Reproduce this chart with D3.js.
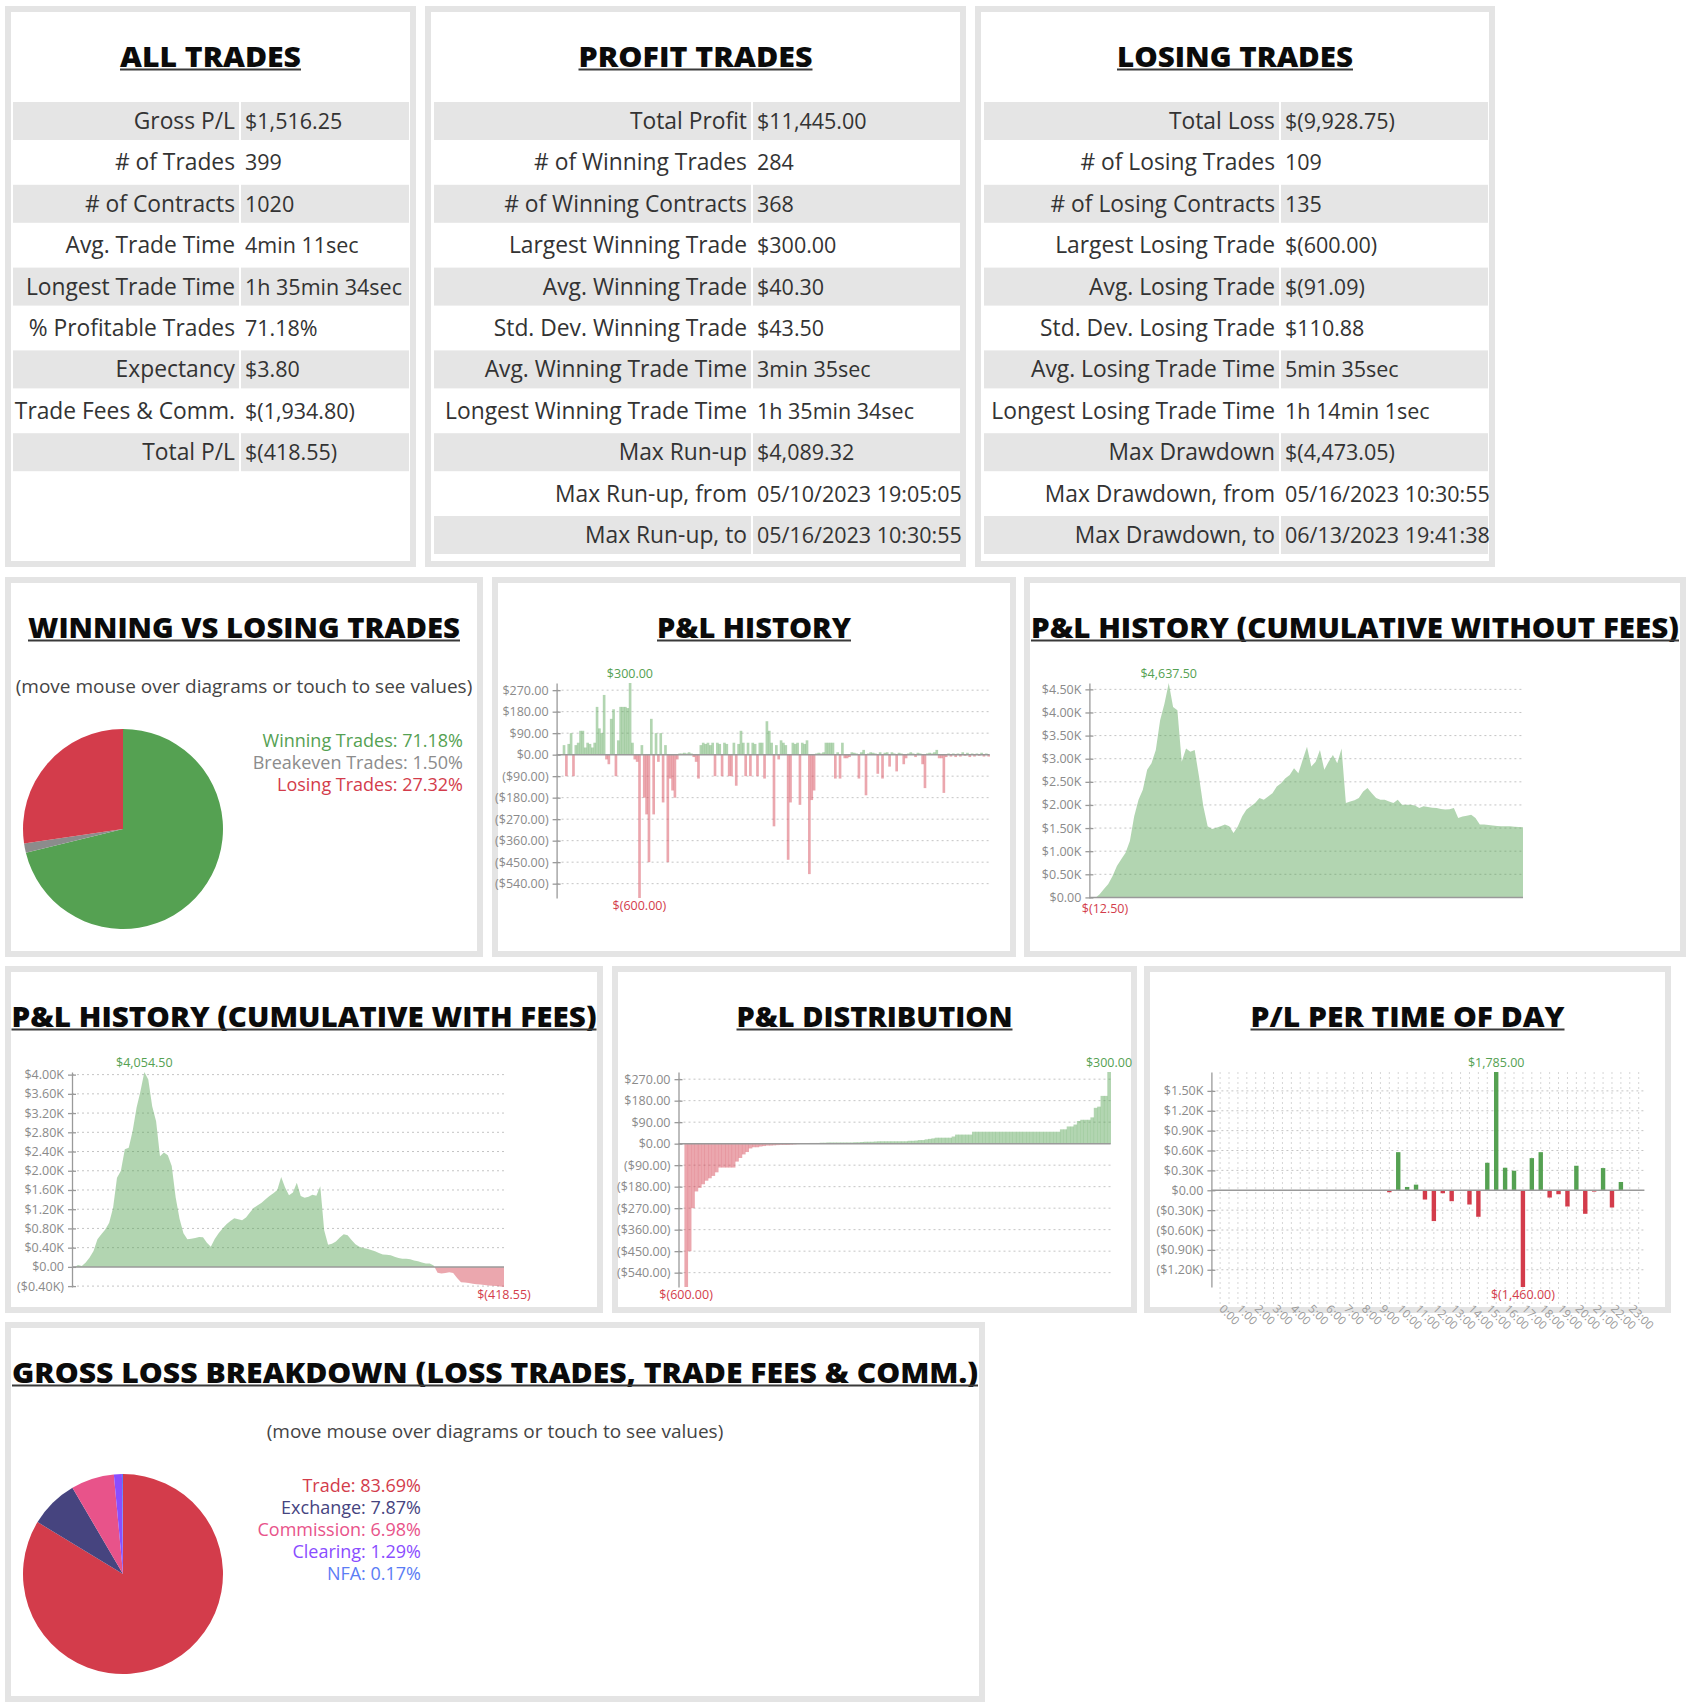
<!DOCTYPE html>
<html>
<head>
<meta charset="utf-8">
<script src="https://cdn.jsdelivr.net/npm/d3@7"></script>
<style>
  body { margin: 0; background: #fff; }
  svg text { font-family: "Open Sans", "Noto Sans", sans-serif; }
</style>
</head>
<body>
<svg id="chart" width="1700" height="1708"></svg>
<script>
// ---- table data ----
const allTrades = [
  ['Gross P/L', '$1,516.25'], ['# of Trades', '399'], ['# of Contracts', '1020'],
  ['Avg. Trade Time', '4min 11sec'], ['Longest Trade Time', '1h 35min 34sec'],
  ['% Profitable Trades', '71.18%'], ['Expectancy', '$3.80'],
  ['Trade Fees & Comm.', '$(1,934.80)'], ['Total P/L', '$(418.55)']
];
const profitTrades = [
  ['Total Profit', '$11,445.00'], ['# of Winning Trades', '284'], ['# of Winning Contracts', '368'],
  ['Largest Winning Trade', '$300.00'], ['Avg. Winning Trade', '$40.30'],
  ['Std. Dev. Winning Trade', '$43.50'], ['Avg. Winning Trade Time', '3min 35sec'],
  ['Longest Winning Trade Time', '1h 35min 34sec'], ['Max Run-up', '$4,089.32'],
  ['Max Run-up, from', '05/10/2023 19:05:05'], ['Max Run-up, to', '05/16/2023 10:30:55']
];
const losingTrades = [
  ['Total Loss', '$(9,928.75)'], ['# of Losing Trades', '109'], ['# of Losing Contracts', '135'],
  ['Largest Losing Trade', '$(600.00)'], ['Avg. Losing Trade', '$(91.09)'],
  ['Std. Dev. Losing Trade', '$110.88'], ['Avg. Losing Trade Time', '5min 35sec'],
  ['Longest Losing Trade Time', '1h 14min 1sec'], ['Max Drawdown', '$(4,473.05)'],
  ['Max Drawdown, from', '05/16/2023 10:30:55'], ['Max Drawdown, to', '06/13/2023 19:41:38']
];

// ---- pie data ----
const winLossLabels = ['Winning Trades', 'Breakeven Trades', 'Losing Trades'];
const winLossPct = [71.18, 1.50, 27.32];
const grossLabels = ['Trade', 'Exchange', 'Commission', 'Clearing', 'NFA'];
const grossPct = [83.69, 7.87, 6.98, 1.29, 0.17];

// ---- P&L per trade (left to right) ----
const tradePnl = [40,-90,45,90,-90,40,50,100,100,30,50,45,30,50,200,110,90,250,-20,-40,
  150,190,-90,60,200,200,200,195,300,50,-20,-30,-600,40,-180,-250,-450,150,-250,90,
  -30,90,-200,40,-450,-100,-150,-180,-20,5,5,8,5,10,5,-10,-30,-100,40,50,
  45,50,40,50,-90,50,45,-90,50,45,-90,-90,50,-130,45,100,50,-90,50,-90,
  50,45,-90,50,50,-100,140,100,50,-300,40,-20,60,50,40,-440,-200,50,45,50,
  -210,50,45,60,-500,-190,-150,5,8,5,10,50,50,50,50,-100,10,-100,50,-15,
  -15,-10,10,8,5,-100,10,20,-170,5,10,8,5,-80,10,-100,8,10,-50,10,
  5,-70,8,5,-40,-15,5,10,5,-10,8,5,-40,-140,5,8,5,10,20,-15,
  -15,-160,-10,5,-8,5,-10,5,-8,10,-5,8,-10,5,-8,5,-5,8,-8,5,-8];

// ---- cumulative P&L without fees ----
const cumNoFees = [-12.5,-12,70,180,290,465,680,825,965,1220,
  1755,2115,2330,2760,2900,3190,3830,4190,4637.5,4120,
  4050,2935,3220,3150,3190,2615,1970,1540,1480,1505,
  1540,1575,1540,1395,1540,1755,1900,1970,2040,2150,
  2115,2185,2255,2400,2470,2580,2650,2795,2685,2975,
  3260,2830,2935,3190,2760,2935,3080,2900,3220,2040,
  2075,2100,2150,2290,2365,2255,2150,2115,2115,2075,
  2040,2115,2005,2005,2005,1990,1935,1970,1955,1940,
  1935,1910,1900,1905,1935,1720,1750,1765,1790,1720,
  1575,1575,1565,1555,1545,1540,1540,1540,1530,1525,1516.25];

// ---- cumulative P&L with fees ----
const cumWithFees = [-20,40,20,90,195,330,575,680,780,920,
  1230,1855,2000,2445,2480,2825,3310,3655,4054.5,3900,
  3340,3030,2300,2380,2320,2100,1450,1000,700,575,
  585,600,620,615,500,420,580,700,800,885,
  955,1010,990,970,1025,1130,1230,1280,1335,1405,
  1475,1530,1600,1870,1650,1490,1545,1750,1475,1440,
  1460,1500,1480,1680,760,460,480,530,610,680,
  660,560,470,420,395,378,350,325,290,258,
  250,240,212,185,168,168,158,132,115,90,
  72,70,30,-120,-140,-125,-110,-125,-230,-318,
  -325,-335,-352,-360,-368,-378,-388,-395,-398,-408,-418.55];

// ---- P&L distribution (sorted trades) ----
const pnlDistribution = [-600,-450,-270,-200,-185,-170,-155,-145,-135,-120,
  -100,-100,-100,-100,-100,-75,-60,-45,-35,-20,
  -15,-15,-12,-10,-8,-8,-7,-6,-5,-5,
  -5,-4,-3,-2,0,0,2,3,3,3,
  4,4,5,5,5,5,5,5,5,5,
  6,6,7,8,8,8,9,10,10,10,
  10,10,10,10,10,10,12,12,13,15,
  15,18,20,22,25,25,25,25,25,30,
  38,38,38,38,38,50,50,50,50,50,
  50,50,50,50,50,50,50,50,50,50,
  50,50,50,50,50,50,50,50,50,50,
  50,60,60,72,72,80,95,100,100,100,
  110,150,155,200,200,300];

// ---- P/L per time of day (half-hour slots 0:00 .. 23:30) ----
const hourLabels = ['0:00','1:00','2:00','3:00','4:00','5:00','6:00','7:00','8:00','9:00','10:00','11:00',
  '12:00','13:00','14:00','15:00','16:00','17:00','18:00','19:00','20:00','21:00','22:00','23:00'];
const todPnl = [0,0,0,0,0,0,0,0,0,0,0,0,0,0,0,0,0,0,0,-30,
  575,50,85,-140,-465,-45,-165,0,-215,-400,
  415,1785,340,295,-1460,485,575,-110,-60,-245,
  370,-355,-20,335,-260,125,0,0];

// ---- tick values ----
const pnlTicks = [270,180,90,0,-90,-180,-270,-360,-450,-540];
const cumNoFeesTicks = [0,500,1000,1500,2000,2500,3000,3500,4000,4500];
const cumFeesTicks = [-400,0,400,800,1200,1600,2000,2400,2800,3200,3600,4000];
const todTicks = [-1200,-900,-600,-300,0,300,600,900,1200,1500];

const GREEN = '#55a152', RED = '#d33c4b', GRAY = '#8c8c8c';
const grossColors = ['#d33c4b', '#46447f', '#e8538a', '#8a4dff', '#5b7cf5'];
const PLOT_H = 215;

const svg = d3.select('#chart');
const defs = svg.append('defs');

const fmt2 = d3.format(',.2f');
const money = v => v < 0 ? `$(${fmt2(-v)})` : `$${fmt2(v)}`;
const tickMoney = v => v === 0 ? '$0.00' : (v < 0 ? `($${fmt2(-v)})` : `$${fmt2(v)}`);
const tickK = v => {
  if (v === 0) return '$0.00';
  const s = d3.format('.2f')(Math.abs(v) / 1000) + 'K';
  return v < 0 ? `($${s})` : `$${s}`;
};

const panels = {
  all:    { x: 5,    y: 6,    w: 411, h: 561, title: 'ALL TRADES', tw: 181 },
  profit: { x: 425,  y: 6,    w: 541, h: 561, title: 'PROFIT TRADES', tw: 234 },
  losing: { x: 975,  y: 6,    w: 520, h: 561, title: 'LOSING TRADES', tw: 236 },
  win:    { x: 5,    y: 577,  w: 478, h: 380, title: 'WINNING VS LOSING TRADES', tw: 432 },
  hist:   { x: 492,  y: 577,  w: 524, h: 380, title: 'P&L HISTORY', tw: 194 },
  cumNo:  { x: 1024, y: 577,  w: 662, h: 380, title: 'P&L HISTORY (CUMULATIVE WITHOUT FEES)', tw: 648 },
  cumFee: { x: 5,    y: 966,  w: 598, h: 347, title: 'P&L HISTORY (CUMULATIVE WITH FEES)', tw: 585 },
  dist:   { x: 612,  y: 966,  w: 525, h: 347, title: 'P&L DISTRIBUTION', tw: 276 },
  tod:    { x: 1144, y: 966,  w: 527, h: 347, title: 'P/L PER TIME OF DAY', tw: 314 },
  gross:  { x: 5,    y: 1322, w: 980, h: 380, title: 'GROSS LOSS BREAKDOWN (LOSS TRADES, TRADE FEES & COMM.)', tw: 966 }
};

const panelLayer = svg.append('g');
const contentLayer = svg.append('g');

Object.values(panels).forEach(p => {
  panelLayer.append('rect')
    .attr('x', p.x + 3).attr('y', p.y + 3)
    .attr('width', p.w - 6).attr('height', p.h - 6)
    .attr('fill', '#fff').attr('stroke', '#e4e4e4').attr('stroke-width', 6);
  const cx = p.x + p.w / 2;
  panelLayer.append('text')
    .attr('x', cx).attr('y', p.y + 61)
    .attr('text-anchor', 'middle')
    .attr('font-size', 29).attr('font-weight', 800)
    .attr('fill', '#0b0b0b')
    .attr('textLength', p.tw).attr('lengthAdjust', 'spacingAndGlyphs')
    .text(p.title);
  panelLayer.append('rect')
    .attr('x', cx - p.tw / 2).attr('y', p.y + 62.5)
    .attr('width', p.tw).attr('height', 2)
    .attr('fill', '#3a3a3a');
});

// ---- tables ----
function drawTable(rows, c) {
  const g = contentLayer.append('g');
  rows.forEach((r, i) => {
    const top = 102 + i * 41.4;
    if (i % 2 === 0) {
      g.append('rect').attr('x', c.lx0).attr('y', top).attr('width', c.lx1 - c.lx0).attr('height', 38).attr('fill', '#e5e5e5');
      g.append('rect').attr('x', c.vx0).attr('y', top).attr('width', c.vx1 - c.vx0).attr('height', 38).attr('fill', '#e5e5e5');
    }
    g.append('text').attr('x', c.lx1 - 4).attr('y', top + 27)
      .attr('text-anchor', 'end').attr('font-size', 22.8).attr('fill', '#333').text(r[0]);
    g.append('text').attr('x', c.vx0 + 4).attr('y', top + 27)
      .attr('font-size', 21.5).attr('fill', '#333').text(r[1]);
  });
}
drawTable(allTrades,    { lx0: 13,  lx1: 239,  vx0: 241,  vx1: 409 });
drawTable(profitTrades, { lx0: 434, lx1: 751,  vx0: 753,  vx1: 960 });
drawTable(losingTrades, { lx0: 984, lx1: 1279, vx0: 1281, vx1: 1488 });

// ---- pies ----
function drawPie(p, labels, values, colors, legendRight) {
  const g = contentLayer.append('g');
  g.append('text').attr('x', p.x + p.w / 2).attr('y', p.y + 116)
    .attr('text-anchor', 'middle').attr('font-size', 19).attr('fill', '#444')
    .text('(move mouse over diagrams or touch to see values)');
  const arcs = d3.pie().sort(null)(values);
  const arc = d3.arc().innerRadius(0).outerRadius(100);
  g.append('g').attr('transform', `translate(${p.x + 118},${p.y + 252})`)
    .selectAll('path').data(arcs).join('path')
    .attr('d', arc).attr('fill', (d, i) => colors[i]);
  g.selectAll('text.leg').data(labels).join('text')
    .attr('class', 'leg')
    .attr('x', legendRight).attr('y', (d, i) => p.y + 170 + i * 22)
    .attr('text-anchor', 'end').attr('font-size', 18)
    .attr('fill', (d, i) => colors[i])
    .text((d, i) => `${d}: ${values[i].toFixed(2)}%`);
}
drawPie(panels.win, winLossLabels, winLossPct, [GREEN, GRAY, RED], 463);
drawPie(panels.gross, grossLabels, grossPct, grossColors, 421);

// ---- shared chart frame ----
function frame(p, values, ticks, tickFmt, axisX, gridEnd) {
  const top = p.y + 106, bottom = top + PLOT_H;
  const y = d3.scaleLinear().domain(d3.extent(values)).range([bottom, top]);
  const g = contentLayer.append('g');
  g.selectAll('line.grid').data(ticks.filter(t => t !== 0)).join('line')
    .attr('x1', axisX).attr('x2', gridEnd)
    .attr('y1', d => y(d)).attr('y2', d => y(d))
    .attr('stroke', '#c4c4c4').attr('stroke-dasharray', '2,3');
  const marks = g.append('g');
  const over = g.append('g');
  over.append('line').attr('x1', axisX).attr('x2', gridEnd)
    .attr('y1', y(0)).attr('y2', y(0))
    .attr('stroke', '#9a9a9a').attr('stroke-width', 1.5);
  const ax = over.append('g').attr('transform', `translate(${axisX},0)`)
    .call(d3.axisLeft(y).tickValues(ticks).tickFormat(tickFmt)
      .tickSize(4).tickSizeOuter(0).tickPadding(4));
  ax.select('.domain').attr('stroke', '#9a9a9a').attr('stroke-width', 1.3);
  ax.selectAll('.tick line').attr('x1', 4).attr('stroke', '#9a9a9a').attr('stroke-width', 1.3);
  ax.selectAll('.tick text').attr('fill', '#8a8a8a').attr('font-size', 12.5)
    .style('font-family', '"Open Sans", sans-serif');
  return { g, marks, over, y, top, bottom };
}

function extremeLabels(f, xPos, values, minDrop) {
  const iMax = d3.maxIndex(values), iMin = d3.minIndex(values);
  f.over.append('text').attr('x', xPos(iMax)).attr('y', f.top - 5)
    .attr('text-anchor', 'middle').attr('font-size', 12.5).attr('fill', GREEN)
    .text(money(values[iMax]));
  f.over.append('text').attr('x', xPos(iMin)).attr('y', f.bottom + (minDrop || 12))
    .attr('text-anchor', 'middle').attr('font-size', 12.5).attr('fill', RED)
    .text(money(values[iMin]));
}

function barSeries(p, values, ticks, axisX, x0, x1) {
  const f = frame(p, values, ticks, tickMoney, axisX, x1);
  const x = d3.scaleBand().domain(d3.range(values.length)).range([x0, x1]);
  f.marks.selectAll('rect').data(values).join('rect')
    .attr('x', (d, i) => x(i)).attr('width', x.bandwidth() + 0.3)
    .attr('y', d => Math.min(f.y(d), f.y(0)))
    .attr('height', d => Math.abs(f.y(d) - f.y(0)))
    .attr('fill', d => d >= 0 ? GREEN : RED).attr('fill-opacity', 0.45);
  extremeLabels(f, i => x(i) + x.bandwidth() / 2, values);
}

function areaSeries(p, values, ticks, axisX, x0, x1, id, minDrop) {
  const f = frame(p, values, ticks, tickK, axisX, x1);
  const x = d3.scaleLinear().domain([0, values.length - 1]).range([x0, x1]);
  const area = d3.area().x((d, i) => x(i)).y0(f.y(0)).y1(d => f.y(d));
  defs.append('clipPath').attr('id', id + 'pos').append('rect')
    .attr('x', x0 - 2).attr('y', f.top - 5).attr('width', x1 - x0 + 4).attr('height', f.y(0) - f.top + 5);
  defs.append('clipPath').attr('id', id + 'neg').append('rect')
    .attr('x', x0 - 2).attr('y', f.y(0)).attr('width', x1 - x0 + 4).attr('height', f.bottom - f.y(0) + 5);
  f.marks.append('path').datum(values).attr('d', area)
    .attr('fill', GREEN).attr('fill-opacity', 0.45).attr('clip-path', `url(#${id}pos)`);
  f.marks.append('path').datum(values).attr('d', area)
    .attr('fill', RED).attr('fill-opacity', 0.45).attr('clip-path', `url(#${id}neg)`);
  extremeLabels(f, i => Math.max(x(i), x0 + 14), values, minDrop);
}

barSeries(panels.hist, tradePnl, pnlTicks, 556.6, 562.7, 989.7);
areaSeries(panels.cumNo, cumNoFees, cumNoFeesTicks, 1089.4, 1091, 1523, 'cno', 15);
areaSeries(panels.cumFee, cumWithFees, cumFeesTicks, 72, 74, 504, 'cwf');
barSeries(panels.dist, pnlDistribution, pnlTicks, 678.5, 684.4, 1110.7);

// ---- P/L per time of day ----
(function () {
  const p = panels.tod;
  const f = frame(p, todPnl, todTicks, tickK, 1211.4, 1644.4);
  const x = d3.scalePoint().domain(d3.range(todPnl.length)).range([1220.1, 1638.7]);
  const axisY = p.y + 340;
  f.marks.selectAll('line.vgrid').data(d3.range(todPnl.length)).join('line')
    .attr('x1', d => x(d)).attr('x2', d => x(d))
    .attr('y1', f.top).attr('y2', axisY)
    .attr('stroke', '#d6d6d6').attr('stroke-dasharray', '2,3');
  f.marks.selectAll('rect').data(todPnl).join('rect')
    .attr('x', (d, i) => x(i) - 2.2).attr('width', 4.4)
    .attr('y', d => Math.min(f.y(d), f.y(0)))
    .attr('height', d => Math.abs(f.y(d) - f.y(0)))
    .attr('fill', d => d >= 0 ? GREEN : RED);
  const xa = f.over.append('g').attr('transform', `translate(0,${axisY})`)
    .call(d3.axisBottom(x).tickValues(d3.range(0, todPnl.length, 2))
      .tickFormat(i => hourLabels[i / 2]).tickSize(0).tickPadding(0));
  xa.select('.domain').remove();
  xa.selectAll('.tick text')
    .attr('fill', '#9a9a9a').attr('font-size', 11.5)
    .style('font-family', '"Open Sans", sans-serif')
    .attr('text-anchor', 'start').attr('dy', 0).attr('y', 0).attr('x', 0)
    .attr('transform', 'rotate(45) translate(1,4)');
  extremeLabels(f, x, todPnl);
})();
</script>
</body>
</html>
